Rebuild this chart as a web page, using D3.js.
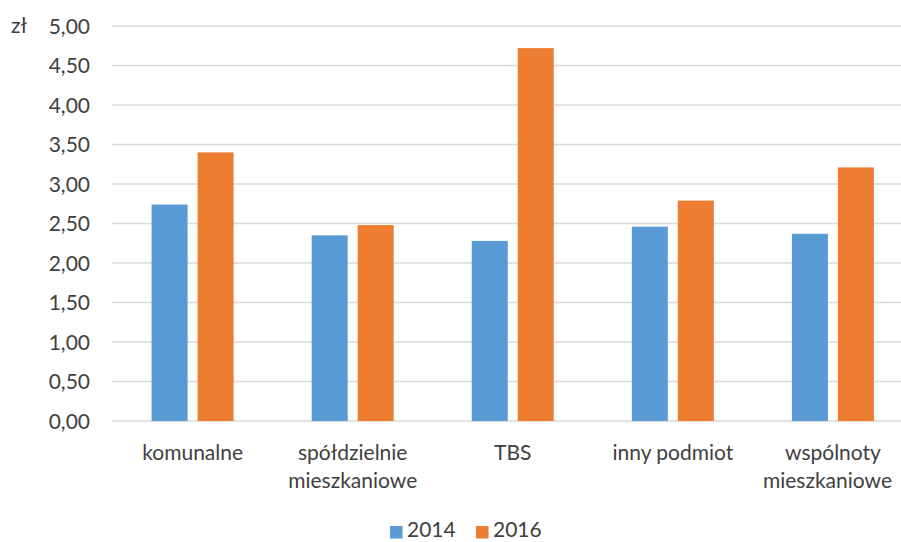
<!DOCTYPE html>
<html>
<head>
<meta charset="utf-8">
<script src="https://cdn.jsdelivr.net/npm/d3@7"></script>
<style>
  html, body { margin: 0; padding: 0; background: #fff; }
  svg { display: block; }
  text { font-family: Lato, "Open Sans", sans-serif; fill: #404040; }
</style>
</head>
<body>
<svg id="chart" width="901" height="542"></svg>
<script>
// Średni czynsz za m² według rodzaju właściciela zasobu (zł)
const categories = [
  ["komunalne"],
  ["spółdzielnie", "mieszkaniowe"],
  ["TBS"],
  ["inny podmiot"],
  ["wspólnoty", "mieszkaniowe"]
];
const years = ["2014", "2016"];
const values2014 = [2.74, 2.35, 2.28, 2.46, 2.37];
const values2016 = [3.40, 2.48, 4.72, 2.79, 3.21];
const yTicks = [0, 0.5, 1, 1.5, 2, 2.5, 3, 3.5, 4, 4.5, 5];
const unitLabel = "zł";
const colors = ["#5B9BD5", "#ED7D31"];

const svg = d3.select("#chart");
const W = 901, H = 542;
const fontSize = 21;

const y = d3.scaleLinear().domain([0, 5]).range([421, 26]);
const x0 = d3.scaleBand()
  .domain(d3.range(categories.length))
  .range([112.6, 913])
  .paddingInner(0)
  .paddingOuter(0);
const x1 = d3.scaleBand()
  .domain(years)
  .range([39, 121])
  .paddingInner(0.217);

const fmt = v => d3.format(".2f")(v).replace(".", ",");

// gridlines
svg.append("g")
  .selectAll("line")
  .data(yTicks)
  .join("line")
  .attr("x1", 112)
  .attr("x2", W)
  .attr("y1", d => y(d))
  .attr("y2", d => y(d))
  .attr("stroke", "#d9d9d9")
  .attr("stroke-width", 1.5);

// y axis labels
const yAxis = d3.axisLeft(y).tickValues(yTicks).tickFormat(fmt).tickSize(0).tickPadding(0);
const yg = svg.append("g").attr("transform", "translate(90,0)").call(yAxis);
yg.select(".domain").remove();
yg.selectAll("text")
  .attr("font-size", fontSize)
  .attr("font-family", "Lato, 'Open Sans', sans-serif")
  .attr("fill", "#404040")
  .attr("dy", "0.35em");

svg.append("text")
  .attr("x", 11)
  .attr("y", y(5))
  .attr("dy", "0.35em")
  .attr("font-size", fontSize)
  .text(unitLabel);

// bars
const series = [values2014, values2016];
const barData = [];
categories.forEach((c, i) => {
  years.forEach((yr, j) => {
    barData.push({ i, year: yr, value: series[j][i], color: colors[j] });
  });
});
svg.append("g")
  .selectAll("rect")
  .data(barData)
  .join("rect")
  .attr("x", d => x0(d.i) + x1(d.year))
  .attr("width", x1.bandwidth())
  .attr("y", d => y(d.value))
  .attr("height", d => y(0) - y(d.value))
  .attr("fill", d => d.color);

// category labels
const catG = svg.append("g");
categories.forEach((lines, i) => {
  const cx = x0(i) + x0.bandwidth() / 2;
  lines.forEach((ln, k) => {
    const t = catG.append("text")
      .attr("x", cx)
      .attr("y", 460 + k * 28)
      .attr("text-anchor", "middle")
      .attr("font-size", fontSize)
      .text(ln);
    // keep labels inside the drawing area
    const bb = t.node().getBBox();
    if (bb.x + bb.width > W - 9) {
      t.attr("x", cx - (bb.x + bb.width - (W - 9)));
    }
  });
});

// legend
const legend = svg.append("g");
const legendItems = [
  { label: years[0], color: colors[0], x: 390 },
  { label: years[1], color: colors[1], x: 476 }
];
legendItems.forEach(d => {
  legend.append("rect")
    .attr("x", d.x)
    .attr("y", 526)
    .attr("width", 12.5)
    .attr("height", 12.5)
    .attr("fill", d.color);
  legend.append("text")
    .attr("x", d.x + 17)
    .attr("y", 537)
    .attr("font-size", fontSize)
    .text(d.label);
});
</script>
</body>
</html>
